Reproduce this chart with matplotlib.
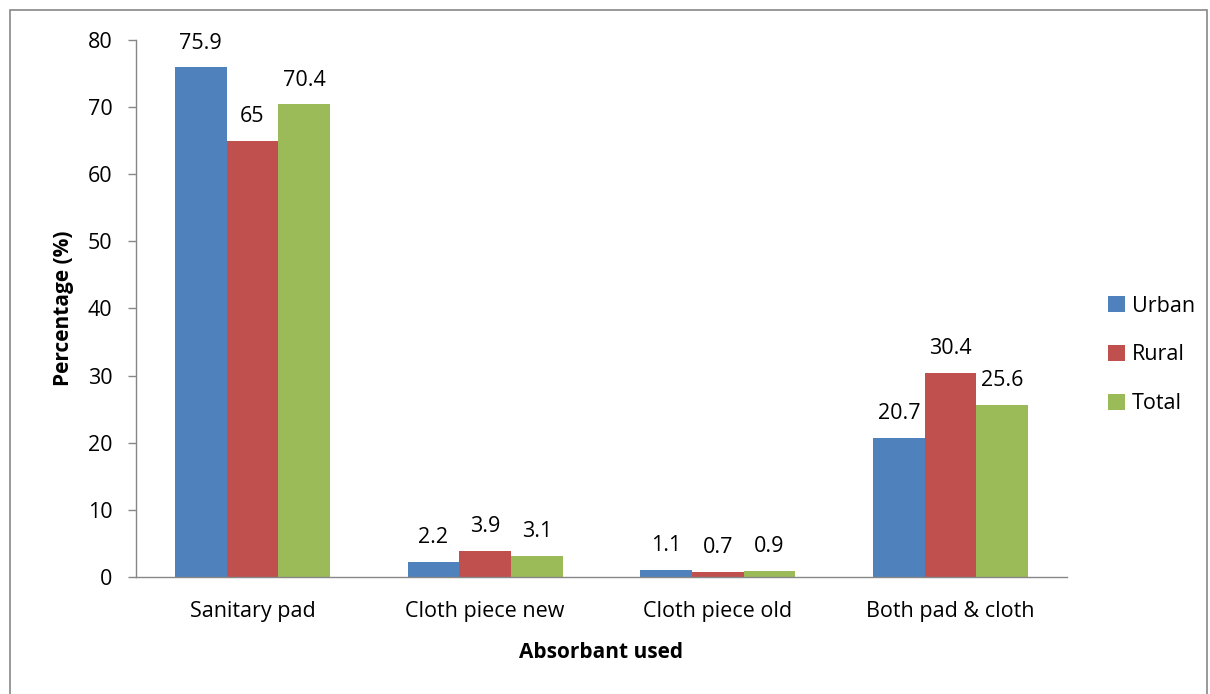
import numpy as np
import matplotlib.pyplot as plt
from matplotlib.patches import Rectangle

categories = ['Sanitary pad', 'Cloth piece new', 'Cloth piece old', 'Both pad & cloth']
series = ['Urban', 'Rural', 'Total']
urban = [75.9, 2.2, 1.1, 20.7]
rural = [65, 3.9, 0.7, 30.4]
total = [70.4, 3.1, 0.9, 25.6]
colors = ['#4F81BD', '#C0504D', '#9BBB59']

plt.rcParams['font.family'] = ['Open Sans', 'DejaVu Sans']

fig = plt.figure(figsize=(12.1, 6.94), dpi=100)
ax = fig.add_axes([0.1124, 0.1686, 0.7694, 0.7738])

x = np.arange(len(categories))
w = 0.222
for i, (vals, name, c) in enumerate(zip([urban, rural, total], series, colors)):
    bars = ax.bar(x + (i - 1) * w, vals, w, color=c, label=name)
    for b, v in zip(bars, vals):
        ax.annotate(f'{v:g}', (b.get_x() + b.get_width() / 2, v),
                    xytext=(0, 10), textcoords='offset points',
                    ha='center', va='bottom', fontsize=15.5)

ax.set_xlim(-0.5, len(categories) - 0.5)
ax.set_ylim(0, 80)
ax.set_yticks(range(0, 81, 10))
ax.set_xticks(x)
ax.set_xticklabels(categories)
ax.tick_params(axis='y', labelsize=15.5, length=6, color='#878787', width=1, pad=11)
ax.tick_params(axis='x', labelsize=15.5, length=0, pad=17)
for s in ['top', 'right']:
    ax.spines[s].set_visible(False)
for s in ['left', 'bottom']:
    ax.spines[s].set_color('#878787')
    ax.spines[s].set_linewidth(1)

ax.set_ylabel('Percentage (%)', fontsize=15, fontweight='bold', labelpad=10)
ax.set_xlabel('Absorbant used', fontsize=15, fontweight='bold', labelpad=15)

fig.legend(*ax.get_legend_handles_labels(), loc='center left',
           bbox_to_anchor=(1089 / 1210, 1 - 355 / 694), frameon=False,
           fontsize=15.5, handlelength=0.75, handleheight=0.75, handletextpad=0.35,
           labelspacing=1.29)

fig.patches.append(Rectangle((10 / 1210, -0.05), 1197 / 1210, 1 - 10 / 694 + 0.05,
                             transform=fig.transFigure, fill=False,
                             edgecolor='#878787', linewidth=1.2))

fig.savefig('out.png', dpi=100)
